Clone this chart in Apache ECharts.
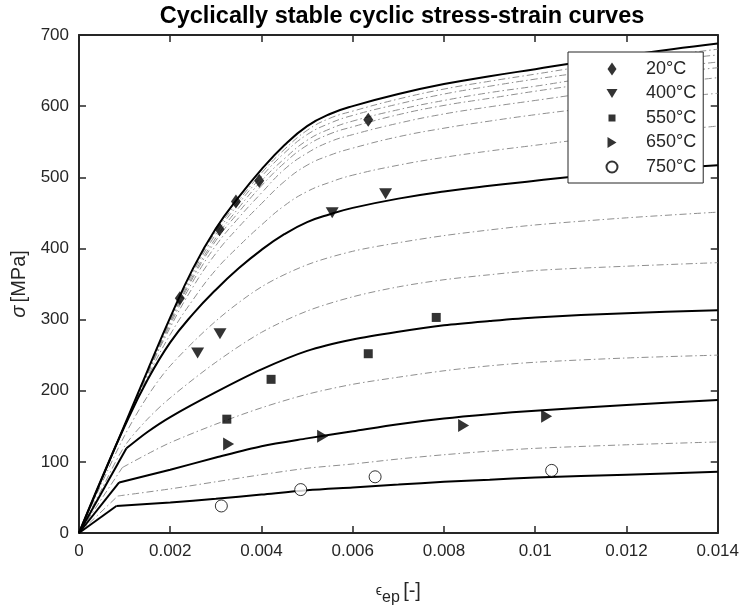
<!DOCTYPE html>
<html>
<head>
<meta charset="utf-8">
<script src="https://cdn.jsdelivr.net/npm/echarts@6/dist/echarts.min.js"></script>
<style>
  html, body { margin: 0; padding: 0; background: #fff; }
  #chart { width: 742px; height: 611px; }
</style>
</head>
<body>
<div id="chart"></div>
<script>
// ---- Strain grid shared by the 20 °C ... 400 °C family ----
const strainUpper = [0, 0.0005, 0.001, 0.0015, 0.002, 0.0025, 0.003, 0.0035, 0.004, 0.0045, 0.005, 0.0055, 0.006, 0.007, 0.008, 0.009, 0.01, 0.011, 0.012, 0.013, 0.014];

// Fitted cyclic curves (solid) at the tested temperatures, MPa
const stress20  = [0, 76, 152, 228, 303, 372, 428, 472, 511, 545, 572, 589, 600, 617, 631, 642, 652, 662, 671, 680, 688];
const stress400 = [0, 77, 150, 215, 268, 308, 342, 372, 398, 420, 437, 448, 457, 470, 480, 488, 495, 502, 508, 513, 517];

// Intermediate temperatures between 20 °C and 400 °C (dash-dot)
const stressMid1 = [0, 76, 152, 227, 301, 369, 424, 467, 506, 539, 566, 583, 593, 610, 624, 635, 645, 655, 663, 672, 680];
const stressMid2 = [0, 76, 152, 227, 300, 366, 420, 463, 501, 534, 560, 576, 587, 603, 617, 628, 638, 647, 656, 665, 672];
const stressMid3 = [0, 76, 151, 226, 298, 362, 415, 457, 495, 526, 552, 568, 579, 595, 608, 619, 628, 638, 647, 655, 662];
const stressMid4 = [0, 76, 151, 225, 296, 359, 411, 451, 488, 520, 545, 561, 571, 588, 601, 611, 621, 630, 638, 647, 654];
const stressMid5 = [0, 76, 151, 224, 293, 354, 404, 443, 478, 511, 534, 550, 560, 576, 589, 599, 608, 617, 625, 633, 640];
const stressMid6 = [0, 76, 151, 223, 289, 346, 393, 430, 463, 494, 517, 531, 541, 557, 569, 579, 588, 596, 604, 612, 618];
const stressMid7 = [0, 76, 150, 219, 279, 328, 370, 403, 433, 460, 480, 493, 503, 517, 528, 537, 545, 553, 560, 566, 572];

// ---- High-temperature curves, [strain, stress] pairs ----
// The second pair of 550–750 °C curves is the end of the linear elastic branch.
const curve450 = [[0,0],[0.0005,70],[0.001,137],[0.0015,192],[0.002,235],[0.003,298],[0.004,346],[0.005,377],[0.006,396],[0.007,408],[0.008,418],[0.009,426],[0.01,433],[0.012,443],[0.014,451]];
const curve500 = [[0,0],[0.0005,62],[0.001,122],[0.0015,160],[0.002,190],[0.003,240],[0.004,282],[0.005,312],[0.006,332],[0.007,346],[0.008,356],[0.009,363],[0.01,369],[0.012,375],[0.014,380]];
const curve550 = [[0,0],[0.00104,119],[0.0015,142],[0.002,163],[0.003,198],[0.004,230],[0.005,256],[0.006,272],[0.007,283],[0.008,292],[0.009,298],[0.01,303],[0.012,309],[0.014,313]];
const curve600 = [[0,0],[0.00095,92],[0.0015,111],[0.002,127],[0.003,153],[0.004,176],[0.005,195],[0.006,209],[0.007,219],[0.008,228],[0.009,235],[0.01,240],[0.012,246],[0.014,250]];
const curve650 = [[0,0],[0.00088,71],[0.002,89],[0.003,106],[0.004,122],[0.005,133],[0.006,143],[0.007,153],[0.008,161],[0.009,167],[0.01,172],[0.012,180],[0.014,187]];
const curve700 = [[0,0],[0.00085,52],[0.002,62],[0.003,72],[0.004,82],[0.005,91],[0.006,97],[0.007,104],[0.008,110],[0.009,115],[0.01,119],[0.012,124],[0.014,128]];
const curve750 = [[0,0],[0.00082,38],[0.002,43],[0.003,48],[0.004,54],[0.005,60],[0.006,64],[0.007,68],[0.008,72],[0.009,75],[0.01,78],[0.012,82],[0.014,86]];

// ---- Measured stabilised points ----
const points20  = [[0.00221,330],[0.00308,427],[0.00344,466],[0.00395,495],[0.00634,581]];
const points400 = [[0.0026,253],[0.00309,280],[0.00555,450],[0.00672,477]];
const points550 = [[0.00324,160],[0.00421,216],[0.00634,252],[0.00783,303]];
const points650 = [[0.00328,125],[0.00534,136],[0.00843,151],[0.01025,164]];
const points750 = [[0.00312,38],[0.00486,61],[0.00649,79],[0.01036,88]];

const legendNames = ['20°C', '400°C', '550°C', '650°C', '750°C'];
const xTicks = { min: 0, max: 0.014, step: 0.002 };
const yTicks = { min: 0, max: 700, step: 100 };

const FONT = '"Liberation Sans", Arial, Helvetica, sans-serif';
const INK = '#262626';

function pairs(xs, ys) { return xs.map((x, i) => [x, ys[i]]); }

const solidStyle = { color: '#000', width: 2 };
const dashStyle = { color: '#8f8f8f', width: 1, type: [7, 3, 1.5, 3] };

function line(data, style, smooth, z) {
  return {
    type: 'line', data, showSymbol: false, symbol: 'none', silent: true,
    smooth: smooth, z: z, lineStyle: style
  };
}
// Bilinear-start curves: straight elastic branch, then a smooth hardening branch
function kinked(data, style, z) {
  return [line(data.slice(0, 2), style, false, z), line(data.slice(1), style, 0.3, z)];
}

const markerDiamond = 'path://M5,0 L10,7 L5,14 L0,7 Z';
const markerDown = 'path://M0,0 L12,0 L6,10 Z';
const markerRight = 'path://M0,0 L10,6 L0,12 Z';

// Legend icons drawn inside a 14x14 box (corner moves fix the box size)
const iconDiamond = 'path://M0,0 M14,14 M7,0.5 L11.5,7 L7,13.5 L2.5,7 Z';
const iconDown = 'path://M0,0 M14,14 M1.5,2.5 L12.5,2.5 L7,11.5 Z';
const iconSquare = 'path://M0,0 M14,14 M3.5,3.5 L10.5,3.5 L10.5,10.5 L3.5,10.5 Z';
const iconRight = 'path://M0,0 M14,14 M2.5,1.5 L11.5,7 L2.5,12.5 Z';
const iconCircle = 'path://M0,0 M14,14 M12.5,7 A5.5,5.5 0 1 1 1.5,7 A5.5,5.5 0 1 1 12.5,7 Z';

function scatter(name, data, symbol, size, style) {
  return {
    type: 'scatter', name, data, symbol, symbolSize: size, z: 5,
    itemStyle: style || { color: '#000' }
  };
}

const series = [
  line(pairs(strainUpper, stressMid1), dashStyle, 0.45, 2),
  line(pairs(strainUpper, stressMid2), dashStyle, 0.45, 2),
  line(pairs(strainUpper, stressMid3), dashStyle, 0.45, 2),
  line(pairs(strainUpper, stressMid4), dashStyle, 0.45, 2),
  line(pairs(strainUpper, stressMid5), dashStyle, 0.45, 2),
  line(pairs(strainUpper, stressMid6), dashStyle, 0.45, 2),
  line(pairs(strainUpper, stressMid7), dashStyle, 0.45, 2),
  line(curve450, dashStyle, 0.3, 2),
  line(curve500, dashStyle, 0.3, 2),
  ...kinked(curve600, dashStyle, 2),
  ...kinked(curve700, dashStyle, 2),
  line(pairs(strainUpper, stress20), solidStyle, 0.45, 3),
  line(pairs(strainUpper, stress400), solidStyle, 0.45, 3),
  ...kinked(curve550, solidStyle, 3),
  ...kinked(curve650, solidStyle, 3),
  ...kinked(curve750, solidStyle, 3),
  scatter(legendNames[0], points20, markerDiamond, [10, 14]),
  scatter(legendNames[1], points400, markerDown, [13, 11]),
  scatter(legendNames[2], points550, 'rect', 9),
  scatter(legendNames[3], points650, markerRight, [11, 13]),
  scatter(legendNames[4], points750, 'circle', 12, { color: '#fff', borderColor: '#000', borderWidth: 1 })
];

const tickFmt = v => String(Math.round(v * 1000) / 1000);

const baseAxis = {
  axisLine: { show: true, onZero: false, lineStyle: { color: INK, width: 2 } },
  axisTick: { show: true, inside: true, length: 7, lineStyle: { color: INK, width: 1.5 } },
  splitLine: { show: false },
};

const chart = echarts.init(document.getElementById('chart'), null, { renderer: 'canvas' });
chart.setOption({
  animation: false,
  backgroundColor: '#fff',
  title: {
    text: 'Cyclically stable cyclic stress-strain curves',
    left: 397, top: 0, textAlign: 'center',
    textStyle: { fontFamily: FONT, fontSize: 23.5, fontWeight: 'bold', color: '#000' }
  },
  grid: { left: 79, right: 22, top: 35, bottom: 78, containLabel: false },
  legend: {
    orient: 'vertical', left: 568, top: 52,
    backgroundColor: '#fff', borderColor: INK, borderWidth: 1,
    padding: [8, 7, 7, 36],
    itemWidth: 14, itemHeight: 14, itemGap: 6.5,
    selectedMode: false,
    textStyle: { fontFamily: FONT, fontSize: 18, color: INK, lineHeight: 18, padding: [0, 0, 0, 22] },
    data: [
      { name: legendNames[0], icon: iconDiamond },
      { name: legendNames[1], icon: iconDown },
      { name: legendNames[2], icon: iconSquare },
      { name: legendNames[3], icon: iconRight },
      { name: legendNames[4], icon: iconCircle }
    ]
  },
  xAxis: [
    Object.assign({}, baseAxis, {
      type: 'value', position: 'bottom', min: xTicks.min, max: xTicks.max, interval: xTicks.step,
      axisLabel: { show: true, margin: 10, showMinLabel: true, showMaxLabel: true,
        fontFamily: FONT, fontSize: 17, color: INK, formatter: tickFmt },
      name: '{eps|ϵ}{sub|ep} {txt|[-]}', nameLocation: 'middle', nameGap: 43,
      nameTextStyle: {
        fontFamily: FONT, color: INK,
        rich: {
          eps: { fontFamily: FONT, fontSize: 14, color: INK },
          sub: { fontFamily: FONT, fontSize: 16, color: INK, padding: [14, 0, 0, 0] },
          txt: { fontFamily: FONT, fontSize: 20, color: INK }
        }
      }
    }),
    Object.assign({}, baseAxis, {
      type: 'value', position: 'top', min: xTicks.min, max: xTicks.max, interval: xTicks.step,
      axisLabel: { show: false }
    })
  ],
  yAxis: [
    Object.assign({}, baseAxis, {
      type: 'value', position: 'left', min: yTicks.min, max: yTicks.max, interval: yTicks.step,
      axisLabel: { show: true, margin: 10, showMinLabel: true, showMaxLabel: true,
        fontFamily: FONT, fontSize: 17, color: INK },
      name: '{sig|σ} {txt|[MPa]}', nameLocation: 'middle', nameGap: 50, nameRotate: 90,
      nameTextStyle: {
        fontFamily: FONT, color: INK,
        rich: {
          sig: { fontFamily: FONT, fontSize: 20, fontStyle: 'italic', color: INK },
          txt: { fontFamily: FONT, fontSize: 20, color: INK }
        }
      }
    }),
    Object.assign({}, baseAxis, {
      type: 'value', position: 'right', min: yTicks.min, max: yTicks.max, interval: yTicks.step,
      axisLabel: { show: false }
    })
  ],
  series
});
</script>
</body>
</html>
